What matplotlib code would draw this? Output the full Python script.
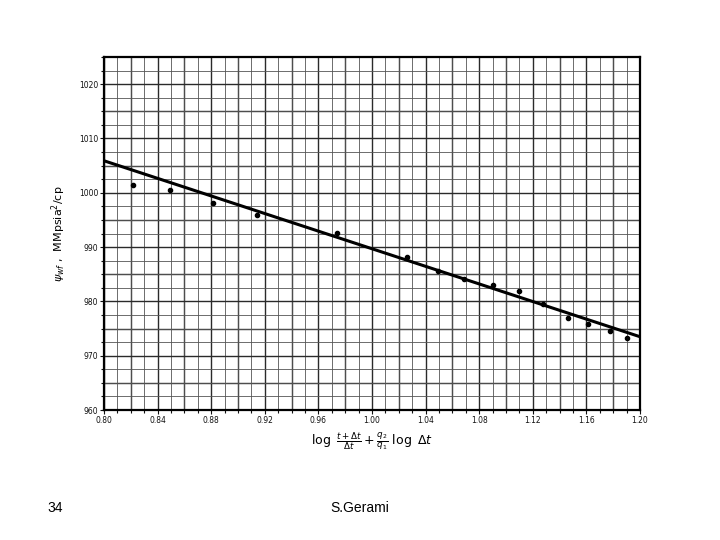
import numpy as np
import matplotlib.pyplot as plt
from matplotlib.ticker import MultipleLocator

x_pts = [0.822, 0.849, 0.881, 0.914, 0.974, 1.026, 1.049, 1.069, 1.090,
         1.110, 1.128, 1.146, 1.161, 1.178, 1.190]
psi_pts = [1001.5, 1000.6, 998.1, 995.9, 992.6, 988.1, 985.6, 984.1, 983.0,
           982.0, 979.6, 977.0, 975.9, 974.6, 973.3]

# Straight line drawn through the data
line_x = [0.80, 1.20]
line_y = [1005.9, 973.5]

x_ticks = [0.80, 0.84, 0.88, 0.92, 0.96, 1.00, 1.04, 1.08, 1.12, 1.16, 1.20]
x_ticklabels = ['0.80', '0.84', '0.88', '0.92', '0.96', '1.00', '1.04',
                '1.08', '1.12', '1.16', '1.20']
y_ticks = [960, 970, 980, 990, 1000, 1010, 1020]

fig = plt.figure(figsize=(7.2, 5.4), dpi=100)
ax = fig.add_axes([0.1444, 0.2407, 0.7444, 0.6537])

ax.set_xlim(0.80, 1.20)
ax.set_ylim(960, 1025)

ax.set_xticks(x_ticks)
ax.set_xticklabels(x_ticklabels)
ax.set_yticks(y_ticks)
ax.set_yticklabels([str(v) for v in y_ticks])
ax.xaxis.set_minor_locator(MultipleLocator(0.01))
ax.yaxis.set_minor_locator(MultipleLocator(2.5))

# graph-paper grid: heavier every 0.02 / 5, lighter every 0.01 / 2.5
ax.grid(which='major', color='#2a2a2a', lw=1.0)
ax.grid(which='minor', color='#555555', lw=0.6)
for xv in np.arange(0.82, 1.20, 0.04):
    ax.axvline(xv, color='#2a2a2a', lw=1.0, zorder=0.5)
for yv in np.arange(965, 1025, 10):
    ax.axhline(yv, color='#2a2a2a', lw=1.0, zorder=0.5)
ax.set_axisbelow(True)

ax.tick_params(which='both', labelsize=5.5, length=3, width=0.8,
               direction='out', pad=1, colors='#111111')
ax.tick_params(which='minor', length=2)

for s in ax.spines.values():
    s.set_linewidth(1.6)
    s.set_color('black')

ax.plot(line_x, line_y, color='black', lw=2.2, zorder=3)
ax.plot(x_pts, psi_pts, 'o', color='black', ms=3, zorder=4)

ax.set_xlabel(r'$\log\ \frac{t+\Delta t}{\Delta t} + \frac{q_2}{q_1}\ \log\ \Delta t$',
              fontsize=9, labelpad=4)
ax.set_ylabel(r'$\psi_{wf}$ ,  MMpsia$^2$/cp', fontsize=8, labelpad=8)

fig.text(47 / 720, 1 - 508 / 540, '34', fontsize=10, ha='left', va='center',
         family='Liberation Sans')
fig.text(360 / 720, 1 - 508 / 540, 'S.Gerami', fontsize=10, ha='center',
         va='center', family='Liberation Sans')

fig.savefig('out.png', dpi=100)
